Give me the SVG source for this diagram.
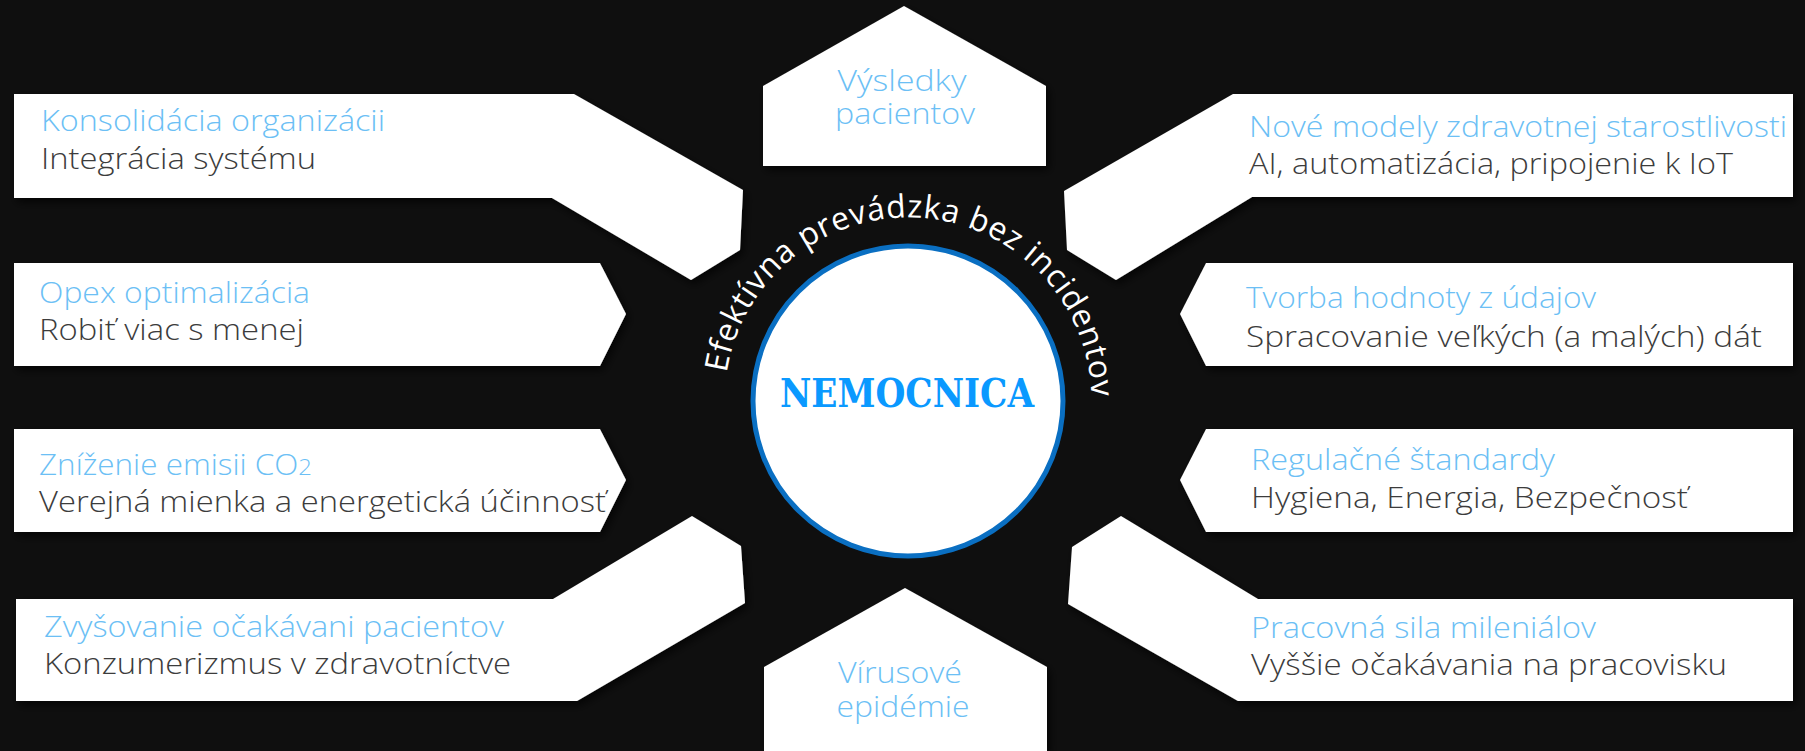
<svg xmlns="http://www.w3.org/2000/svg" width="1805" height="751" viewBox="0 0 1805 751">
<defs>
<filter id="sh" x="-10%" y="-10%" width="120%" height="130%"><feDropShadow dx="3" dy="4" stdDeviation="4" flood-color="#000" flood-opacity="0.7"/></filter>
<path id="arc" d="M 724.5 401 A 183.5 183.5 0 0 1 1091.5 401"/>
</defs>
<style>
.box{fill:#ffffff;filter:url(#sh);}
.t1{font-family:"Open Sans",Lato,sans-serif;font-weight:300;font-size:29px;fill:#6cbff5;}
.t2{font-family:"Open Sans",Lato,sans-serif;font-weight:300;font-size:29px;fill:#3c3c3c;}
.c{text-anchor:middle;}
</style>
<rect width="1805" height="751" fill="#0f0f0f"/>
<g id="connectors"></g>
<g id="n-konsolidacia">
<polygon class="box" points="14,94 574,94 743,190 740,250 691,280 552,198 14,198"/>
<text class="t1" x="41" y="131" textLength="344" lengthAdjust="spacingAndGlyphs">Konsolidácia organizácii</text>
<text class="t2" x="41" y="169" textLength="275" lengthAdjust="spacingAndGlyphs">Integrácia systému</text>
</g>
<g id="n-opex">
<polygon class="box" points="14,263 600,263 626,314 600,366 14,366"/>
<text class="t1" x="39" y="303" textLength="271" lengthAdjust="spacingAndGlyphs">Opex optimalizácia</text>
<text class="t2" x="39" y="340" textLength="265" lengthAdjust="spacingAndGlyphs">Robiť viac s menej</text>
</g>
<g id="n-co2">
<polygon class="box" points="14,429 600,429 626,480 600,532 14,532"/>
<text class="t1" x="39" y="475" textLength="273" lengthAdjust="spacingAndGlyphs">Zníženie emisii CO<tspan font-size="22">2</tspan></text>
<text class="t2" x="39" y="512" textLength="567" lengthAdjust="spacingAndGlyphs">Verejná mienka a energetická účinnosť</text>
</g>
<g id="n-zvysovanie">
<polygon class="box" points="16,599 553,599 692,516 741,546 745,603 577,701 16,701"/>
<text class="t1" x="44" y="637" textLength="460" lengthAdjust="spacingAndGlyphs">Zvyšovanie očakávani pacientov</text>
<text class="t2" x="44" y="674" textLength="467" lengthAdjust="spacingAndGlyphs">Konzumerizmus v zdravotníctve</text>
</g>
<g id="n-vysledky">
<polygon class="box" points="763,86 904,6 1046,86 1046,166 763,166"/>
<text class="t1 c" x="902" y="91" textLength="129" lengthAdjust="spacingAndGlyphs">Výsledky</text>
<text class="t1 c" x="905" y="124" textLength="140" lengthAdjust="spacingAndGlyphs">pacientov</text>
</g>
<g id="n-virusove">
<polygon class="box" points="764,667 905,588 1047,667 1047,751 764,751"/>
<text class="t1 c" x="900" y="683" textLength="124" lengthAdjust="spacingAndGlyphs">Vírusové</text>
<text class="t1 c" x="903" y="717" textLength="133" lengthAdjust="spacingAndGlyphs">epidémie</text>
</g>
<g id="n-nove">
<polygon class="box" points="1233,94 1793,94 1793,197 1252,197 1116,280 1067,250 1064,191"/>
<text class="t1" x="1249" y="137" textLength="538" lengthAdjust="spacingAndGlyphs">Nové modely zdravotnej starostlivosti</text>
<text class="t2" x="1249" y="174" textLength="484" lengthAdjust="spacingAndGlyphs">AI, automatizácia, pripojenie k IoT</text>
</g>
<g id="n-tvorba">
<polygon class="box" points="1206,263 1793,263 1793,366 1206,366 1180,314"/>
<text class="t1" x="1246" y="308" textLength="350" lengthAdjust="spacingAndGlyphs">Tvorba hodnoty z údajov</text>
<text class="t2" x="1246" y="347" textLength="516" lengthAdjust="spacingAndGlyphs">Spracovanie veľkých (a malých) dát</text>
</g>
<g id="n-regulacne">
<polygon class="box" points="1206,429 1793,429 1793,532 1206,532 1180,480"/>
<text class="t1" x="1251" y="470" textLength="304" lengthAdjust="spacingAndGlyphs">Regulačné štandardy</text>
<text class="t2" x="1251" y="508" textLength="437" lengthAdjust="spacingAndGlyphs">Hygiena, Energia, Bezpečnosť</text>
</g>
<g id="n-pracovna">
<polygon class="box" points="1121,516 1072,547 1068,604 1238,701 1793,701 1793,599 1258,599"/>
<text class="t1" x="1251" y="638" textLength="345" lengthAdjust="spacingAndGlyphs">Pracovná sila mileniálov</text>
<text class="t2" x="1251" y="675" textLength="476" lengthAdjust="spacingAndGlyphs">Vyššie očakávania na pracovisku</text>
</g>
<g id="n-nemocnica">
<circle cx="908" cy="401" r="155" fill="#ffffff" stroke="#0a6fc2" stroke-width="5"/>
<text x="907" y="407" text-anchor="middle" font-family="'DejaVu Serif',serif" font-weight="bold" font-size="39" fill="#0a99ff" textLength="254" lengthAdjust="spacingAndGlyphs">NEMOCNICA</text>
</g>
<g id="n-arc">
<text font-family="'Open Sans',sans-serif" font-size="32" fill="#ffffff"><textPath href="#arc" startOffset="28" textLength="544" lengthAdjust="spacing">Efektívna prevádzka bez incidentov</textPath></text>
</g>
</svg>
